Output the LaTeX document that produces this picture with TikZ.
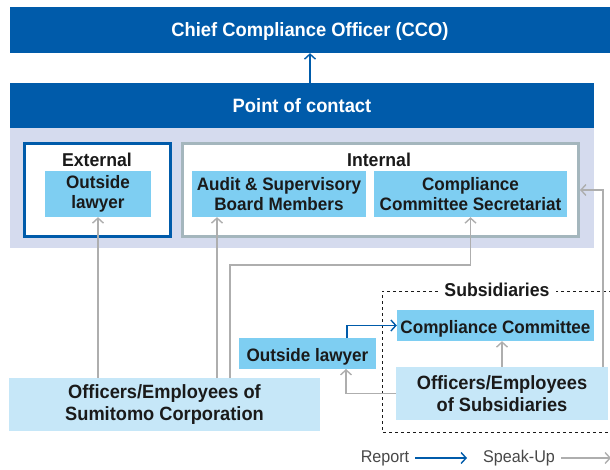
\documentclass[tikz,border=0pt]{standalone}
\usepackage{fontspec}
\setmainfont{Liberation Sans}[FakeStretch=0.95]
\usetikzlibrary{arrows.meta}
\definecolor{dblue}{HTML}{005BAA}
\definecolor{lav}{HTML}{D5DBEE}
\definecolor{sky}{HTML}{7ECEF2}
\definecolor{pale}{HTML}{C6E7F8}
\definecolor{intgray}{HTML}{A4B6BD}
\definecolor{spkgray}{HTML}{AEAEAE}
\definecolor{ink}{HTML}{1A1A1A}
\tikzset{
  bar/.style={fill=dblue, text=white, font=\bfseries\fontsize{19.3}{22}\selectfont, inner sep=0pt, anchor=center, text height=13.5pt, text depth=0pt},
  innerbox/.style={fill=sky, text=ink, font=\bfseries\fontsize{18}{20}\selectfont, align=center, inner sep=0pt, anchor=center},
  singlebox/.style={fill=sky, text=ink, font=\bfseries\fontsize{18}{20}\selectfont, inner sep=0pt, anchor=center, text height=15pt, text depth=0pt},
  palebox/.style={fill=pale, text=ink, font=\bfseries\fontsize{19.2}{21.5}\selectfont, align=center, inner sep=0pt, anchor=center},
  frame/.style={fill=white, line width=3pt, inner sep=0pt, anchor=center},
  heading/.style={text=ink, font=\bfseries\fontsize{18.6}{20}\selectfont, inner sep=0pt, anchor=center},
  rep/.style={draw=dblue, line width=1.4pt, -{Straight Barb[length=5pt,width=11pt,line width=1.4pt]}},
  spk/.style={draw=spkgray, line width=1.4pt, -{Straight Barb[length=5pt,width=11pt,line width=1.4pt]}},
  legtext/.style={text=ink!80, font=\fontsize{17}{19}\selectfont, inner sep=0pt, anchor=center},
}
\begin{document}
\begin{tikzpicture}[x=1pt,y=-1pt]
\useasboundingbox (0,0) rectangle (610,470);
% top bars
\node[bar, minimum width=600pt, minimum height=46pt] (cco) at (310,30) {Chief Compliance Officer (CCO)};
\fill[lav] (10,128) rectangle (594,248);
\node[bar, minimum width=584pt, minimum height=45pt] (poc) at (302,105.5) {Point of contact};
% external / internal frames
\node[frame, draw=dblue, minimum width=146pt, minimum height=93pt] (ext) at (97.5,190) {};
\node[frame, draw=intgray, minimum width=396pt, minimum height=93pt] (int) at (380.5,190) {};
\node[heading] (extlab) at (97,160) {External};
\node[heading] (intlab) at (379,160) {Internal};
\node[innerbox, minimum width=106pt, minimum height=46pt] (ol1) at (98,194) {Outside\\lawyer};
\node[innerbox, minimum width=174pt, minimum height=46pt] (audit) at (279,194) {Audit \& Supervisory\\Board Members};
\node[innerbox, minimum width=193pt, minimum height=46pt] (ccs) at (470.5,194) {Compliance\\Committee Secretariat};
% subsidiaries
\draw[ink, dashed, line width=0.8pt] (612,291) -- (382,291) -- (382,432) -- (612,432);
\node[heading, fill=white, inner xsep=6pt, inner ysep=2pt] (sublab) at (497,290) {Subsidiaries};
\node[singlebox, minimum width=197pt, minimum height=31pt] (cc) at (495.5,325.5) {Compliance Committee};
\node[singlebox, minimum width=137pt, minimum height=31pt] (ol2) at (307.5,353.5) {Outside lawyer};
\node[palebox, minimum width=212pt, minimum height=53pt] (oes) at (502,393.5) {Officers/Employees\\of Subsidiaries};
\node[palebox, minimum width=311pt, minimum height=53pt] (oesc) at (164.5,404.5) {Officers/Employees of\\Sumitomo Corporation};
% connectors
\draw[rep] (poc.north -| cco.south) -- (cco.south);
\draw[spk] (oesc.north -| ol1.south) -- (ol1.south);
\coordinate (a1) at (217,378);
\draw[spk] (a1) -- (a1 |- audit.south);
\coordinate (b1) at (230,378);
\coordinate (b2) at (470.5,265);
\draw[spk] (b1) |- (b2) -- (ccs.south);
\coordinate (d1) at (603,367);
\draw[spk] (d1) |- (int.east);
\draw[spk] (oes.north) -- (oes.north |- cc.south);
\coordinate (e1) at (346,369);
\draw[spk] (oes.west) -| (e1);
\coordinate (e2) at (347,338);
\draw[rep] (e2) |- (cc.west);
% legend
\node[legtext] (lrep) at (385,458) {Report};
\coordinate (lrepend) at (467,458);
\draw[rep] ([xshift=6pt]lrep.east) -- (lrepend);
\node[legtext] (lspk) at (519,458) {Speak-Up};
\coordinate (lspkend) at (611,458);
\draw[spk] ([xshift=6pt]lspk.east) -- (lspkend);
\end{tikzpicture}
\end{document}
